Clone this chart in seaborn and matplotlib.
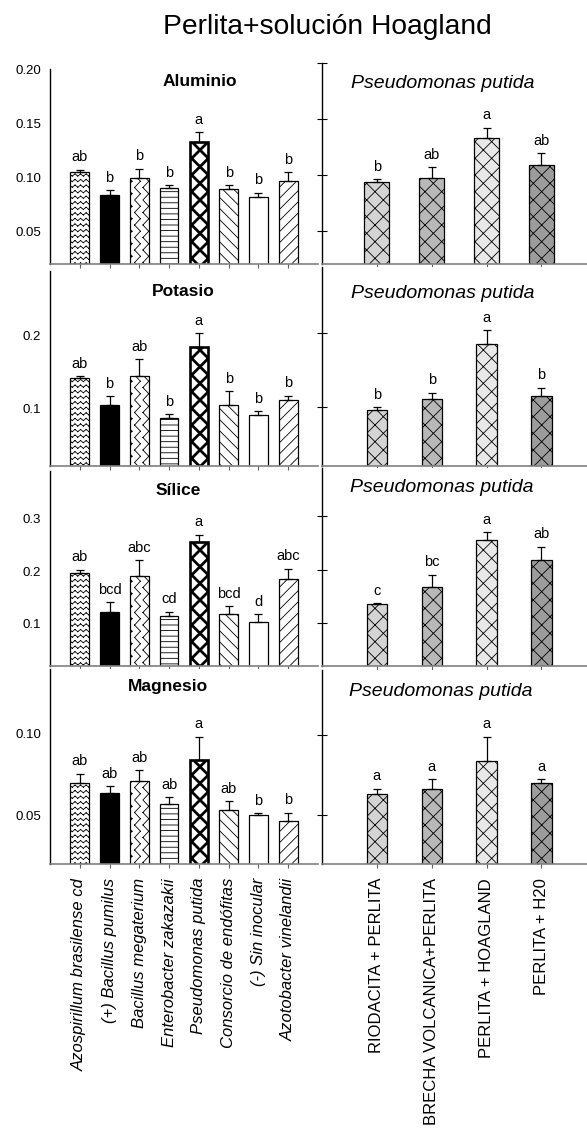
import warnings

import numpy as np
import matplotlib
matplotlib.use("Agg")
import matplotlib.pyplot as plt
import matplotlib.hatch as mhatch
from matplotlib.path import Path
import seaborn as sns

warnings.filterwarnings("ignore")

# categorias
bacterias = ["Azospirillum brasilense cd", "(+) Bacillus pumilus", "Bacillus megaterium",
             "Enterobacter zakazakii", "Pseudomonas putida", "Consorcio de endófitas",
             "(-) Sin inocular", "Azotobacter vinelandii"]
sustratos = ["RIODACITA + PERLITA", "BRECHA VOLCANICA+PERLITA", "PERLITA + HOAGLAND", "PERLITA + H20"]
elementos = ["Aluminio", "Potasio", "Sílice", "Magnesio"]

# bacterias (izquierda)
al = [0.105, 0.084, 0.099, 0.090, 0.133, 0.089, 0.082, 0.097]
al_err = [0.002, 0.004, 0.009, 0.003, 0.0085, 0.004, 0.004, 0.008]
al_let = ["ab", "b", "b", "b", "a", "b", "b", "b"]

k = [0.142, 0.105, 0.144, 0.087, 0.185, 0.105, 0.090, 0.112]
k_err = [0.002, 0.012, 0.024, 0.005, 0.019, 0.019, 0.006, 0.0055]
k_let = ["ab", "b", "ab", "b", "a", "b", "b", "b"]

si = [0.197, 0.122, 0.191, 0.115, 0.256, 0.118, 0.103, 0.185]
si_err = [0.006, 0.019, 0.030, 0.008, 0.013, 0.015, 0.015, 0.020]
si_let = ["ab", "bcd", "abc", "cd", "a", "bcd", "d", "abc"]

mg = [0.070, 0.064, 0.071, 0.057, 0.084, 0.0535, 0.050, 0.0466]
mg_err = [0.0055, 0.0037, 0.0067, 0.0043, 0.0143, 0.005, 0.0012, 0.005]
mg_let = ["ab", "ab", "ab", "ab", "a", "ab", "b", "b"]

# Pseudomonas putida por sustrato (derecha)
al_p = [0.093, 0.097, 0.133, 0.109]
al_p_err = [0.003, 0.010, 0.009, 0.010]
al_p_let = ["b", "ab", "a", "ab"]

k_p = [0.0965, 0.1105, 0.185, 0.1155]
k_p_err = [0.003, 0.009, 0.019, 0.011]
k_p_let = ["b", "b", "a", "b"]

si_p = [0.1355, 0.1667, 0.2546, 0.219]
si_p_err = [0.0025, 0.024, 0.015, 0.024]
si_p_let = ["c", "bc", "a", "ab"]

mg_p = [0.0635, 0.0661, 0.0837, 0.0699]
mg_p_err = [0.003, 0.0065, 0.015, 0.0024]
mg_p_let = ["a", "a", "a", "a"]

ylims = [(0.02, 0.20), (0.02, 0.29), (0.02, 0.39), (0.02, 0.14)]
yticks = [[0.05, 0.10, 0.15, 0.20], [0.1, 0.2], [0.1, 0.2, 0.3], [0.05, 0.10]]
yfmt = ["{:.2f}", "{:.1f}", "{:.1f}", "{:.2f}"]


# zigzag hatches: 'z' horizontal rows, 'n' vertical columns (wider waves)
# each stroke is its own MOVETO/LINETO pair, agg fills hatch paths otherwise
class ZigZag(mhatch.HatchPatternBase):
    def __init__(self, hatch, density):
        rows = hatch.count("z") * density
        cols = hatch.count("n") * density
        # (lines, teeth per unit, amplitude, vertical)
        self.sets = [(rows, rows, 0.2, False), (cols, (cols * 2) // 3, 0.35, True)]
        self.num_vertices = sum(n * 4 * tt for n, tt, _, _ in self.sets if n)

    def set_vertices_and_codes(self, vertices, codes):
        cur = 0
        for n, tt, amp, vertical in self.sets:
            if n == 0:
                continue
            m = 2 * tt + 1
            t = np.linspace(0, 1, m)
            wig = np.where(np.arange(m) % 2, amp / n, -amp / n)
            for i in range(n):
                pos = (i + 0.5) / n + wig
                pts = np.column_stack([pos, t]) if vertical else np.column_stack([t, pos])
                seg = np.empty((2 * (m - 1), 2))
                seg[0::2] = pts[:-1]
                seg[1::2] = pts[1:]
                vertices[cur:cur + len(seg)] = seg
                codes[cur:cur + len(seg):2] = Path.MOVETO
                codes[cur + 1:cur + len(seg):2] = Path.LINETO
                cur += len(seg)


mhatch._hatch_types.append(ZigZag)

sns.set_style("white")
plt.rcParams["font.family"] = ["Liberation Sans", "DejaVu Sans"]
plt.rcParams["hatch.linewidth"] = 0.6
plt.rcParams["text.color"] = "black"
plt.rcParams["xtick.color"] = "black"
plt.rcParams["ytick.color"] = "black"

W, H = 587, 1138
fig = plt.figure(figsize=(W / 100, H / 100), dpi=100)

left_rows = [(69, 264), (271, 466), (471, 666), (669, 864)]
right_rows = [(63, 264), (267, 466), (468, 666), (670, 864)]

left_data = [(al, al_err, al_let), (k, k_err, k_let), (si, si_err, si_let), (mg, mg_err, mg_let)]
right_data = [(al_p, al_p_err, al_p_let), (k_p, k_p_err, k_p_let),
              (si_p, si_p_err, si_p_let), (mg_p, mg_p_err, mg_p_let)]

left_colors = ["white", "black", "white", "white", "white", "white", "white", "white"]
left_hatches = ["zzz", "", "nn", "---", "xx", "\\\\\\", "", "///"]
right_colors = ["#d4d4d4", "#b8b8b8", "#e8e8e8", "#9c9c9c"]

left_title_pos = [(200, 82), (183, 291), (178, 491), (168, 687)]
right_title_pos = [(443, 83), (443, 293), (442, 488), (441, 692)]


def panel(box, cats, vals, errs, lets, colors, hatches, width, ylim, row, left):
    ax = fig.add_axes(box)
    sns.barplot(x=cats, y=vals, hue=cats, palette=colors, legend=False, width=width,
                saturation=1, edgecolor="black", linewidth=0.9, errorbar=None, ax=ax)
    for p, h in zip(ax.patches, hatches):
        p.set_hatch(h)
    n = len(cats)
    ax.errorbar(np.arange(n), vals, yerr=[np.zeros(n), errs], fmt="none",
                ecolor="black", elinewidth=0.9, capsize=3, capthick=0.9)
    for i, (v, e, l) in enumerate(zip(vals, errs, lets)):
        ax.annotate(l, (i, v + e), xytext=(0, 6), textcoords="offset points",
                    ha="center", va="baseline", fontsize=10.5)
    ax.set_ylim(*ylim)
    ax.set_yticks(yticks[row])
    ax.set_xlabel("")
    ax.set_ylabel("")
    for s in ["top", "right"]:
        ax.spines[s].set_visible(False)
    ax.spines["left"].set_color("black")
    ax.spines["left"].set_linewidth(1)
    ax.spines["bottom"].set_color("#808080")
    ax.spines["bottom"].set_linewidth(1.2)
    ax.tick_params(axis="x", direction="out", length=3, color="#606060", pad=7, bottom=True)
    if left:
        ax.set_xlim(-1, n)
        ax.set_yticklabels([yfmt[row].format(t) for t in yticks[row]], fontsize=9.5)
        ax.tick_params(axis="y", length=0, pad=6.5, left=True)
    else:
        ax.set_xlim(-1, n - 0.17)
        ax.set_yticklabels([])
        ax.tick_params(axis="y", direction="inout", length=7, color="black", left=True)
    ax.set_xticks(range(n))
    if row == 3:
        ax.set_xticklabels(cats, rotation=90, fontsize=12, style="italic" if left else "normal")
    else:
        ax.set_xticklabels([])
    return ax


for r in range(4):
    t, b = left_rows[r]
    v, e, l = left_data[r]
    ax = panel([50 / W, 1 - b / H, 268 / W, (b - t) / H], bacterias, v, e, l,
               left_colors, left_hatches, 0.63, ylims[r], r, True)
    ax.patches[4].set_linewidth(1.9)
    if hasattr(ax.patches[4], "set_hatch_linewidth"):
        ax.patches[4].set_hatch_linewidth(2.0)

    t, b = right_rows[r]
    v, e, l = right_data[r]
    width = 0.46 if r == 0 else 0.37
    panel([322 / W, 1 - b / H, 265 / W, (b - t) / H], sustratos, v, e, l,
          right_colors, ["xx"] * 4, width, ylims[r], r, False)

    x, y = left_title_pos[r]
    fig.text(x / W, 1 - y / H, elementos[r], ha="center", va="center",
             fontsize=12.5, fontweight="bold")
    x, y = right_title_pos[r]
    fig.text(x / W, 1 - y / H, "Pseudomonas putida", ha="center", va="center",
             fontsize=14, style="italic")

fig.text(327 / W, 1 - 27 / H, "Perlita+solución Hoagland", ha="center", va="center", fontsize=20.3)

fig.savefig("out.png", dpi=100)
